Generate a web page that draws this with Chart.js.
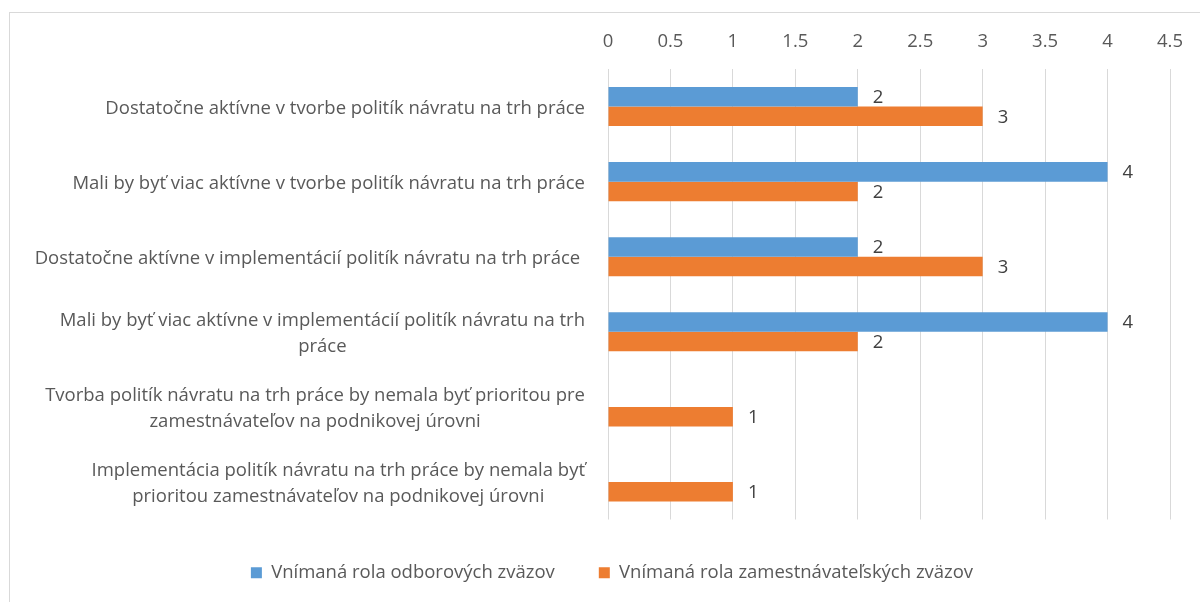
<!DOCTYPE html>
<html>
<head>
<meta charset="utf-8">
<script src="https://cdn.jsdelivr.net/npm/chart.js@4.4.1/dist/chart.umd.min.js"></script>
<style>
  body { margin: 0; background: #fff; }
  #wrap { position: relative; width: 1200px; height: 602px; overflow: hidden; }
  #frame { position: absolute; left: 9px; top: 12px; width: 1200px; height: 600px; border: 1px solid #D9D9D9; box-sizing: border-box; }
  canvas { position: absolute; left: 0; top: 0; }
</style>
</head>
<body>
<div id="wrap">
  <div id="frame"></div>
  <canvas id="barChart" width="1200" height="602"></canvas>
</div>
<script>
// data
const categories = [
    "Dostatočne aktívne v tvorbe politík návratu na trh práce",
    "Mali by byť viac aktívne v tvorbe politík návratu na trh práce",
    "Dostatočne aktívne v implementácií politík návratu na trh práce ",
    ["Mali by byť viac aktívne v implementácií politík návratu na trh", "práce"],
    ["Tvorba politík návratu na trh práce by nemala byť prioritou pre", "zamestnávateľov na podnikovej úrovni"],
    ["Implementácia politík návratu na trh práce by nemala byť", "prioritou zamestnávateľov na podnikovej úrovni"]
];
const seriesNames = ["Vnímaná rola odborových zväzov", "Vnímaná rola zamestnávateľských zväzov"];
const odborove = [2, 4, 2, 4, null, null];
const zamestnavatelske = [3, 2, 3, 2, 1, 1];
const xMin = 0;
const xMax = 4.5;
const xStep = 0.5;

const FONT = "'Open Sans', 'Noto Sans', sans-serif";
const FSIZE = 18.5;
const TEXT = '#595959';

// value labels next to the bars
const valueLabels = {
    id: 'valueLabels',
    afterDatasetsDraw(chart) {
        const ctx = chart.ctx;
        ctx.save();
        ctx.font = FSIZE + 'px ' + FONT;
        ctx.fillStyle = '#404040';
        ctx.textAlign = 'left';
        ctx.textBaseline = 'middle';
        chart.data.datasets.forEach((ds, i) => {
            chart.getDatasetMeta(i).data.forEach((bar, j) => {
                const v = ds.data[j];
                if (v == null) return;
                ctx.fillText(String(v), bar.x + 15, bar.y + 1);
            });
        });
        ctx.restore();
    }
};

// category labels: block right aligned, lines centred inside the block
const categoryLabels = {
    id: 'categoryLabels',
    afterDraw(chart) {
        const ctx = chart.ctx;
        const y = chart.scales.y;
        ctx.save();
        ctx.font = FSIZE + 'px ' + FONT;
        ctx.fillStyle = TEXT;
        ctx.textAlign = 'center';
        ctx.textBaseline = 'middle';
        const lineH = 26;
        chart.data.labels.forEach((lab, j) => {
            const lines = Array.isArray(lab) ? lab : [lab];
            const blockW = Math.max(...lines.map(l => ctx.measureText(l).width));
            const cx = y.right - 23 - blockW / 2;
            const yc = y.getPixelForValue(j);
            lines.forEach((l, k) => {
                ctx.fillText(l, cx, yc + 2 + (k - (lines.length - 1) / 2) * lineH);
            });
        });
        ctx.restore();
    }
};

var ctxB = document.getElementById('barChart').getContext('2d');
var chart = new Chart(ctxB, {
    type: 'bar',
    data: {
        labels: categories,
        datasets: [{
            label: seriesNames[0],
            data: odborove,
            backgroundColor: '#5B9BD5'
        }, {
            label: seriesNames[1],
            data: zamestnavatelske,
            backgroundColor: '#ED7D31'
        }]
    },
    options: {
        responsive: false,
        animation: false,
        indexAxis: 'y',
        layout: { padding: { left: 54, right: 30, top: 0, bottom: 10 } },
        datasets: {
            bar: { categoryPercentage: 0.52, barPercentage: 1 }
        },
        scales: {
            x: {
                position: 'top',
                min: xMin,
                max: xMax,
                afterFit(scale) { scale.height = 69; },
                ticks: {
                    stepSize: xStep,
                    padding: 16,
                    color: TEXT,
                    font: { family: FONT, size: FSIZE },
                    callback: (v) => String(v)
                },
                grid: { color: '#D9D9D9', drawTicks: false },
                border: { display: false }
            },
            y: {
                afterFit(scale) { scale.width = 554; },
                ticks: { display: false },
                grid: { display: false },
                border: { display: false }
            }
        },
        plugins: {
            tooltip: { enabled: false },
            legend: {
                position: 'bottom',
                labels: {
                    boxWidth: 11,
                    boxHeight: 11,
                    padding: 44,
                    color: TEXT,
                    font: { family: FONT, size: FSIZE }
                }
            }
        }
    },
    plugins: [valueLabels, categoryLabels]
});
</script>
</body>
</html>
